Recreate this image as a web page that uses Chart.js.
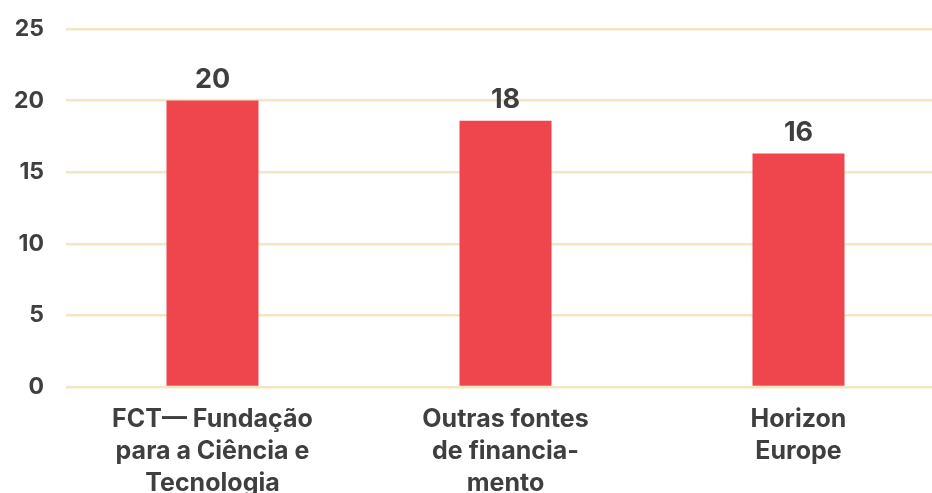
<!DOCTYPE html>
<html>
<head>
<meta charset="utf-8">
<script src="https://cdn.jsdelivr.net/npm/chart.js@4/dist/chart.umd.min.js"></script>
<style>
  html, body { margin: 0; padding: 0; background: #fff; overflow: hidden; }
  #wrap { width: 945px; height: 493px; }
</style>
</head>
<body>
<div id="wrap"><canvas id="myChart"></canvas></div>
<script>
const categories = [
  ['FCT\u2014 Fundação', 'para a Ciência e', 'Tecnologia'],
  ['Outras fontes', 'de financia-', 'mento'],
  ['Horizon', 'Europe'],
];
const values = [20, 18.6, 16.3];
const valueLabels = ['20', '18', '16'];

const textColor = '#3f3f3f';
const fontFamily = 'Inter, "Noto Sans", sans-serif';

const barLabels = {
  id: 'barLabels',
  afterDatasetsDraw(chart) {
    const ctx = chart.ctx;
    const meta = chart.getDatasetMeta(0);
    ctx.save();
    ctx.font = 'bold 27px ' + fontFamily;
    ctx.fillStyle = textColor;
    ctx.textAlign = 'center';
    ctx.textBaseline = 'bottom';
    meta.data.forEach((bar, i) => {
      ctx.fillText(valueLabels[i], bar.x, bar.y - 7);
    });
    ctx.restore();
  },
};

const ctx = document.getElementById('myChart').getContext('2d');
const myChart = new Chart(ctx, {
  type: 'bar',
  data: {
    labels: categories,
    datasets: [
      {
        data: values,
        backgroundColor: '#ef454d',
        barPercentage: 1,
        categoryPercentage: 0.314,
      },
    ],
  },
  options: {
    responsive: true,
    maintainAspectRatio: false,
    animation: false,
    layout: { padding: { top: 29, left: 0, right: 0, bottom: 0 } },
    plugins: {
      legend: { display: false },
      tooltip: { enabled: false },
    },
    scales: {
      x: {
        grid: { display: false, drawTicks: false },
        border: { display: false },
        ticks: {
          color: textColor,
          font: { family: fontFamily, size: 25, weight: 'bold', lineHeight: 1.28 },
          padding: 16,
          maxRotation: 0,
          autoSkip: false,
        },
        afterFit(scale) { scale.height = 106; },
      },
      y: {
        min: 0,
        max: 25,
        grid: { color: '#f3e6c2', lineWidth: 2.5, drawTicks: false },
        border: { display: false },
        ticks: {
          stepSize: 5,
          color: textColor,
          font: { family: fontFamily, size: 23, weight: 'bold' },
          padding: 22,
        },
        afterFit(scale) {
          scale.width = 66;
          scale.paddingTop = 0;
          scale.paddingBottom = 0;
        },
      },
    },
  },
  plugins: [barLabels],
});
</script>
</body>
</html>
